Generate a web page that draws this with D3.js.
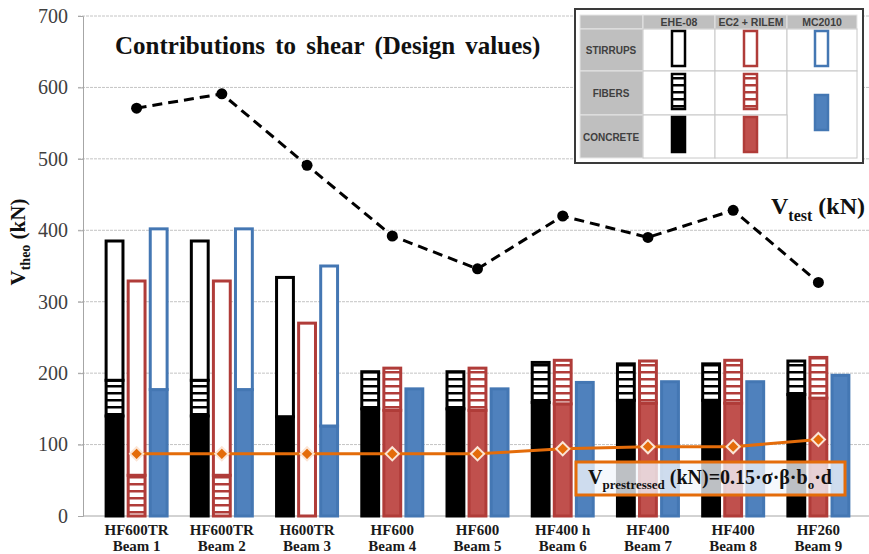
<!DOCTYPE html>
<html>
<head>
<meta charset="utf-8">
<script src="https://cdn.jsdelivr.net/npm/d3@7"></script>
<style>
  body { margin: 0; background: #fff; }
  .serif { font-family: "Liberation Serif", "Times New Roman", serif; }
  .sans { font-family: "Liberation Sans", Arial, sans-serif; }
</style>
</head>
<body>
<div id="chart"></div>
<script>
// beams along the x axis
const beamNames = ['HF600TR', 'HF600TR', 'H600TR', 'HF600', 'HF600', 'HF400 h', 'HF400', 'HF400', 'HF260'];
const beamLabels = ['Beam 1', 'Beam 2', 'Beam 3', 'Beam 4', 'Beam 5', 'Beam 6', 'Beam 7', 'Beam 8', 'Beam 9'];

const methods = ['EHE-08', 'EC2 + RILEM', 'MC2010'];
const parts = ['CONCRETE', 'FIBERS', 'STIRRUPS'];

// EHE-08 contributions (kN)
const eheConcrete = [140, 140, 139, 150, 150, 159, 162, 162, 170];
const eheFibers = [50, 50, 0, 52, 52, 56, 51, 51, 47];
const eheStirrups = [195, 195, 195, 0, 0, 0, 0, 0, 0];

// EC2 + RILEM contributions (kN)
const rilemConcrete = [0, 0, 0, 148, 148, 157, 158, 158, 165];
const rilemFibers = [57, 57, 0, 59, 59, 61, 59, 60, 57];
const rilemStirrups = [272, 272, 270, 0, 0, 0, 0, 0, 0];

// MC2010 contributions (kN) - concrete and fibers together
const mcConcreteFibers = [177, 177, 126, 178, 178, 187, 188, 188, 197];
const mcStirrups = [225, 225, 224, 0, 0, 0, 0, 0, 0];

// lines
const vTest = [571, 591, 491, 392, 346, 420, 390, 428, 327];
const vPrestressed = [87, 87, 87, 87, 87, 94, 97, 97, 107];

const yTicks = [0, 100, 200, 300, 400, 500, 600, 700];

const width = 869;
const height = 554;

const methodStyle = {
    'EHE-08': { key: 'ehe', fill: '#000000', stroke: '#000000' },
    'EC2 + RILEM': { key: 'rilem', fill: '#c0504d', stroke: '#b03c39' },
    'MC2010': { key: 'mc', fill: '#4f81bd', stroke: '#4477b3' }
};

const svg = d3.select('#chart').append('svg')
    .attr('width', width)
    .attr('height', height);

const defs = svg.append('defs');
methods.forEach(m => {
    const s = methodStyle[m];
    const p = defs.append('pattern')
        .attr('id', 'hatch-' + s.key)
        .attr('patternUnits', 'userSpaceOnUse')
        .attr('width', 10)
        .attr('height', 7);
    p.append('rect').attr('width', 10).attr('height', 7).attr('fill', s.stroke);
    p.append('rect').attr('y', 2.5).attr('width', 10).attr('height', 4.5).attr('fill', '#fff');
});

const x = d3.scaleBand().domain(d3.range(beamNames.length)).range([94, 861]);
const xSub = d3.scaleBand().domain(methods).range([-32, 32]).paddingInner(0.1);
const y = d3.scaleLinear().domain([0, 700]).range([516, 16]);

// gridlines
svg.append('g')
    .selectAll('line')
    .data(yTicks.filter(d => d > 0))
    .enter().append('line')
    .attr('x1', 78).attr('x2', width)
    .attr('y1', d => y(d)).attr('y2', d => y(d))
    .attr('stroke', '#c4c4c4')
    .attr('stroke-dasharray', '3,1');

// base line
svg.append('line')
    .attr('x1', 83).attr('x2', width)
    .attr('y1', y(0)).attr('y2', y(0))
    .attr('stroke', '#a6a6a6');

// y axis
const yAxis = svg.append('g')
    .attr('transform', 'translate(83,0)')
    .call(d3.axisLeft(y).tickValues(yTicks).tickSize(5).tickPadding(10));
yAxis.attr('font-family', null).attr('font-size', null);
yAxis.select('.domain').attr('stroke', '#a6a6a6');
yAxis.selectAll('.tick line').attr('stroke', '#a6a6a6');
yAxis.selectAll('.tick text')
    .attr('class', 'serif')
    .style('font-size', '20px')
    .attr('fill', '#404040');

// stacked segments
const stacks = {
    'EHE-08': [eheConcrete, eheFibers, eheStirrups],
    'EC2 + RILEM': [rilemConcrete, rilemFibers, rilemStirrups],
    'MC2010': [mcConcreteFibers, null, mcStirrups]
};

const segments = [];
beamNames.forEach((b, i) => {
    methods.forEach(m => {
        let base = 0;
        stacks[m].forEach((arr, k) => {
            if (!arr || arr[i] === 0) return;
            segments.push({ beam: i, method: m, part: parts[k], y0: base, y1: base + arr[i] });
            base += arr[i];
        });
    });
});

const partFill = (d) => {
    const s = methodStyle[d.method];
    if (d.part === 'CONCRETE') return s.fill;
    if (d.part === 'FIBERS') return 'url(#hatch-' + s.key + ')';
    return '#fff';
};

const bw = xSub.bandwidth();
svg.append('g')
    .selectAll('rect')
    .data(segments)
    .enter().append('rect')
    .attr('x', d => x(d.beam) + x.bandwidth() / 2 + xSub(d.method) + 1.5)
    .attr('width', bw - 3)
    .attr('y', d => y(d.y1))
    .attr('height', d => y(d.y0) - y(d.y1))
    .attr('fill', partFill)
    .attr('stroke', d => methodStyle[d.method].stroke)
    .attr('stroke-width', 3);

const cx = i => x(i) + x.bandwidth() / 2;

// V test line
svg.append('path')
    .datum(vTest)
    .attr('d', d3.line().x((d, i) => cx(i)).y(d => y(d)))
    .attr('fill', 'none')
    .attr('stroke', '#000')
    .attr('stroke-width', 3)
    .attr('stroke-dasharray', '10,6');
svg.append('g')
    .selectAll('circle')
    .data(vTest)
    .enter().append('circle')
    .attr('cx', (d, i) => cx(i))
    .attr('cy', d => y(d))
    .attr('r', 5.5)
    .attr('fill', '#000');

// V prestressed line
svg.append('path')
    .datum(vPrestressed)
    .attr('d', d3.line().x((d, i) => cx(i)).y(d => y(d)))
    .attr('fill', 'none')
    .attr('stroke', '#e46c0a')
    .attr('stroke-width', 3);
svg.append('g')
    .selectAll('path')
    .data(vPrestressed)
    .enter().append('path')
    .attr('d', d3.symbol(d3.symbolDiamond2, 110))
    .attr('transform', (d, i) => `translate(${cx(i)},${y(d)})`)
    .attr('fill', '#e46c0a')
    .attr('stroke', '#fbe5d6')
    .attr('stroke-width', 2);

// annotation box for V prestressed
svg.append('rect')
    .attr('x', 576).attr('y', 462)
    .attr('width', 269).attr('height', 33)
    .attr('fill', '#f2f6fb')
    .attr('fill-opacity', 0.78)
    .attr('stroke', '#e46c0a')
    .attr('stroke-width', 3);
const pre = svg.append('text')
    .attr('class', 'serif')
    .attr('x', 710).attr('y', 484)
    .attr('text-anchor', 'middle')
    .attr('font-weight', 'bold')
    .style('font-size', '20px')
    .attr('fill', '#111');
pre.append('tspan').text('V');
pre.append('tspan').style('font-size', '13px').attr('dy', 5).text('prestressed');
pre.append('tspan').attr('dy', -5).text(' (kN)=0.15·σ·β·b');
pre.append('tspan').style('font-size', '13px').attr('dy', 5).text('o');
pre.append('tspan').attr('dy', -5).text('·d');

// V test label
const vt = svg.append('text')
    .attr('class', 'serif')
    .attr('x', 771).attr('y', 214)
    .attr('font-weight', 'bold')
    .style('font-size', '24px')
    .attr('fill', '#111');
vt.append('tspan').text('V');
vt.append('tspan').style('font-size', '16px').attr('dy', 7).text('test');
vt.append('tspan').attr('dy', -7).text(' (kN)');

// x labels
const xl = svg.append('g')
    .selectAll('text')
    .data(beamNames)
    .enter().append('text')
    .attr('class', 'serif')
    .attr('x', (d, i) => cx(i))
    .attr('text-anchor', 'middle')
    .attr('font-weight', 'bold')
    .style('font-size', '15px')
    .attr('fill', '#1a1a1a');
xl.append('tspan').attr('x', (d, i) => cx(i)).attr('y', 535).text(d => d);
xl.append('tspan').attr('x', (d, i) => cx(i)).attr('y', 551).text((d, i) => beamLabels[i]);

// y title
const yt = svg.append('text')
    .attr('class', 'serif')
    .attr('transform', 'translate(25,242) rotate(-90)')
    .attr('text-anchor', 'middle')
    .attr('font-weight', 'bold')
    .style('font-size', '21px')
    .attr('fill', '#111');
yt.append('tspan').text('V');
yt.append('tspan').style('font-size', '14px').attr('dy', 5).text('theo');
yt.append('tspan').attr('dy', -5).text(' (kN)');

// title
svg.append('text')
    .attr('class', 'serif')
    .attr('x', 115).attr('y', 54)
    .attr('font-weight', 'bold')
    .style('font-size', '25px')
    .attr('word-spacing', 4)
    .attr('fill', '#111')
    .text('Contributions to shear (Design values)');

// legend table
const legend = svg.append('g');
legend.append('rect')
    .attr('x', 575).attr('y', 9).attr('width', 288).attr('height', 154)
    .attr('fill', '#fff')
    .attr('stroke', '#3a3a3a')
    .attr('stroke-width', 2);

const colEdges = [580, 643, 715, 787, 857];
const rowEdges = [15, 29, 71, 115, 158];
for (let r = 0; r < 4; r++) {
    for (let c = 0; c < 4; c++) {
        if (c === 3 && r === 3) continue;
        const h = (c === 3 && r === 2) ? rowEdges[4] - rowEdges[2] : rowEdges[r + 1] - rowEdges[r];
        legend.append('rect')
            .attr('x', colEdges[c]).attr('y', rowEdges[r])
            .attr('width', colEdges[c + 1] - colEdges[c])
            .attr('height', h)
            .attr('fill', (r === 0 || c === 0) ? '#bfbfbf' : '#fff')
            .attr('stroke', (r === 0 || c === 0) ? '#e6e6e6' : '#c8c8c8')
            .attr('stroke-width', 1);
    }
}
methods.forEach((m, c) => {
    legend.append('text')
        .attr('class', 'sans')
        .attr('x', (colEdges[c + 1] + colEdges[c + 2]) / 2)
        .attr('y', 26)
        .attr('text-anchor', 'middle')
        .attr('font-weight', 'bold')
        .style('font-size', '10.5px')
        .attr('fill', '#404040')
        .text(m);
});
['STIRRUPS', 'FIBERS', 'CONCRETE'].forEach((p, r) => {
    legend.append('text')
        .attr('class', 'sans')
        .attr('x', 611)
        .attr('y', (rowEdges[r + 1] + rowEdges[r + 2]) / 2 + 4)
        .attr('text-anchor', 'middle')
        .attr('font-weight', 'bold')
        .style('font-size', '10px')
        .attr('fill', '#404040')
        .text(p);
});
const legendIcons = [
    { method: 'EHE-08', part: 'STIRRUPS', c: 0, cy: 49 },
    { method: 'EHE-08', part: 'FIBERS', c: 0, cy: 92 },
    { method: 'EHE-08', part: 'CONCRETE', c: 0, cy: 135 },
    { method: 'EC2 + RILEM', part: 'STIRRUPS', c: 1, cy: 49 },
    { method: 'EC2 + RILEM', part: 'FIBERS', c: 1, cy: 92 },
    { method: 'EC2 + RILEM', part: 'CONCRETE', c: 1, cy: 135 },
    { method: 'MC2010', part: 'STIRRUPS', c: 2, cy: 49 },
    { method: 'MC2010', part: 'CONCRETE', c: 2, cy: 113 }
];
legend.selectAll('.icon')
    .data(legendIcons)
    .enter().append('rect')
    .attr('class', 'icon')
    .attr('x', d => (colEdges[d.c + 1] + colEdges[d.c + 2]) / 2 - 7)
    .attr('y', d => d.cy - 18)
    .attr('width', 13)
    .attr('height', 35)
    .attr('fill', partFill)
    .attr('stroke', d => methodStyle[d.method].stroke)
    .attr('stroke-width', 2.5);
</script>
</body>
</html>
